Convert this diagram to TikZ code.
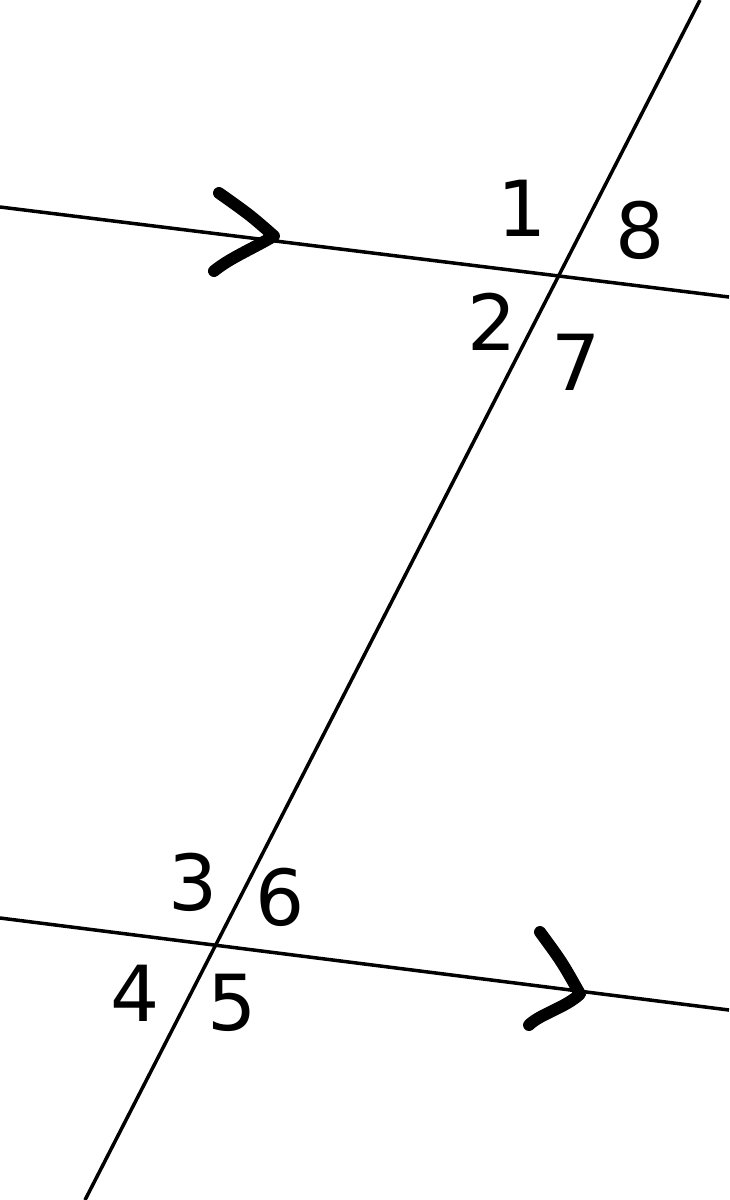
\documentclass[tikz,border=0pt]{standalone}
\usepackage{fontspec}
\setmainfont{DejaVu Sans}
\begin{document}
\begin{tikzpicture}[
    line/.style={black,line width=1pt},
    chevron/.style={black,line width=3.4pt,line cap=round,line join=round},
    num/.style={inner sep=0pt,font=\fontsize{22}{26}\selectfont}]
  \useasboundingbox (0,0) rectangle (7.29,-12);

% parallel lines
  \coordinate (tl) at (0,-2.07);
  \coordinate (tr) at (7.29,-2.97);
  \coordinate (bl) at (0,-9.18);
  \coordinate (br) at (7.29,-10.10);
  \draw[line] (tl) -- (tr);
  \draw[line] (bl) -- (br);

% transversal
  \coordinate (ttop) at (7.00,0);
  \coordinate (tbot) at (0.85,-12.00);
  \draw[line] (ttop) -- (tbot);

% parallel marks
  \draw[chevron] (2.19,-1.93) .. controls (2.50,-2.15) .. (2.74,-2.36) .. controls (2.50,-2.50) and (2.30,-2.58) .. (2.14,-2.71);
  \draw[chevron] (5.40,-9.32) .. controls (5.62,-9.62) .. (5.80,-9.94) .. controls (5.65,-10.08) and (5.40,-10.14) .. (5.29,-10.25);

% angle labels
  \node[num] (a1) at (5.22,-2.08) {1};
  \node[num] (a2) at (4.92,-3.22) {2};
  \node[num] (a3) at (1.93,-8.82) {3};
  \node[num] (a4) at (1.35,-9.93) {4};
  \node[num] (a5) at (2.32,-10.03) {5};
  \node[num] (a6) at (2.80,-8.97) {6};
  \node[num] (a7) at (5.76,-3.62) {7};
  \node[num] (a8) at (6.40,-2.30) {8};

\end{tikzpicture}
\end{document}
